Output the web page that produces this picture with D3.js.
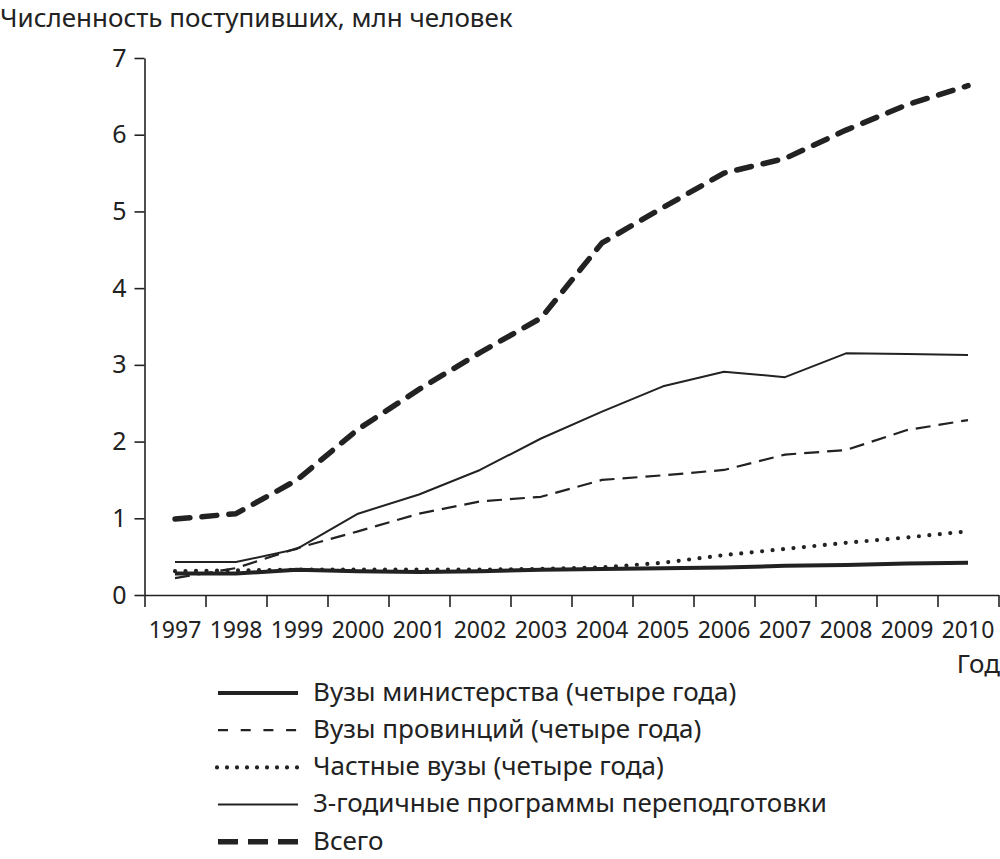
<!DOCTYPE html>
<html>
<head>
<meta charset="utf-8">
<script src="https://cdn.jsdelivr.net/npm/d3@7"></script>
<style>
  body { margin: 0; background: #fff; }
  svg { display: block; }
  text { font-family: "Noto Sans", sans-serif; fill: #222; }
</style>
</head>
<body>
<svg id="chart"></svg>
<script>
// years on the x axis
const years = [1997, 1998, 1999, 2000, 2001, 2002, 2003, 2004, 2005, 2006, 2007, 2008, 2009, 2010]

// enrolment, mln people
const ministry   = [0.28, 0.28, 0.33, 0.31, 0.30, 0.31, 0.33, 0.34, 0.35, 0.36, 0.38, 0.39, 0.41, 0.42]
const provinces  = [0.22, 0.35, 0.61, 0.83, 1.06, 1.22, 1.28, 1.50, 1.56, 1.63, 1.83, 1.89, 2.15, 2.28]
const privateUni = [0.31, 0.32, 0.33, 0.33, 0.33, 0.33, 0.34, 0.36, 0.42, 0.52, 0.60, 0.68, 0.75, 0.83]
const threeYear  = [0.43, 0.43, 0.60, 1.06, 1.31, 1.63, 2.04, 2.39, 2.72, 2.91, 2.84, 3.15, 3.14, 3.13]
const total      = [0.99, 1.06, 1.50, 2.16, 2.68, 3.16, 3.61, 4.59, 5.05, 5.50, 5.69, 6.06, 6.39, 6.64]

const yTicks = [0, 1, 2, 3, 4, 5, 6, 7]

const seriesNames = [
  'Вузы министерства (четыре года)',
  'Вузы провинций (четыре года)',
  'Частные вузы (четыре года)',
  '3-годичные программы переподготовки',
  'Всего'
]

const yTitle = 'Численность поступивших, млн человек'
const xTitle = 'Год'

const W = 1000, H = 859
const ink = '#222'

const svg = d3.select('#chart').attr('width', W).attr('height', H)

const x = d3.scaleBand()
  .domain(years)
  .range([144.5, 998.5])

const y = d3.scaleLinear()
  .domain([0, 7])
  .range([595, 58])

// line look per series (same order as seriesNames)
const styles = [
  { width: 4,   dash: null,     cap: 'butt',  legendDash: null },
  { width: 2.2, dash: '15,8',   cap: 'butt',  legendDash: '10,12.7' },
  { width: 4.2, dash: '0,10.5', cap: 'round', legendDash: '0,10' },
  { width: 2,   dash: null,     cap: 'butt',  legendDash: null },
  { width: 5.5, dash: '15,12',  cap: 'round', legendDash: '20,10' }
]
const seriesData = [ministry, provinces, privateUni, threeYear, total]

// y axis
svg.append('g')
  .attr('transform', 'translate(144.5,0)')
  .call(d3.axisLeft(y).tickValues(yTicks).tickFormat(d3.format('d')).tickSize(10).tickSizeOuter(0).tickPadding(8))
  .call(g => g.selectAll('text').style('font-size', '25px').attr('fill', ink))
  .call(g => g.selectAll('line, path').attr('stroke', ink).attr('stroke-width', 1.6))

// x axis: ticks on the band edges
const edges = d3.scaleLinear().domain([0, years.length]).range(x.range())
svg.append('g')
  .attr('transform', 'translate(0,595)')
  .call(d3.axisBottom(edges).tickValues(d3.range(years.length + 1)).tickFormat('').tickSize(12).tickSizeOuter(0))
  .call(g => g.selectAll('line, path').attr('stroke', ink).attr('stroke-width', 1.6))

// x labels in band centres
svg.append('g')
  .attr('transform', 'translate(0,595)')
  .call(d3.axisBottom(x).tickSize(0).tickPadding(27))
  .call(g => g.select('.domain').remove())
  .call(g => g.selectAll('text').style('font-size', '23px').attr('fill', ink))

// titles
svg.append('text')
  .attr('x', 0).attr('y', 27)
  .style('font-size', '26px')
  .text(yTitle)

svg.append('text')
  .attr('x', 1000).attr('y', 673)
  .attr('text-anchor', 'end')
  .style('font-size', '26px')
  .text(xTitle)

// lines
const line = d3.line()
  .x((d, i) => x(years[i]) + x.bandwidth() / 2)
  .y(d => y(d))

const drawOrder = [3, 1, 2, 0, 4]
drawOrder.forEach(k => {
  const s = styles[k]
  svg.append('path')
    .datum(seriesData[k])
    .attr('d', line)
    .attr('fill', 'none')
    .attr('stroke', ink)
    .attr('stroke-width', s.width)
    .attr('stroke-linecap', s.cap)
    .attr('stroke-linejoin', 'round')
    .attr('stroke-dasharray', s.dash)
})

// legend
const legend = svg.append('g')
seriesNames.forEach((name, i) => {
  const s = styles[i]
  const ly = 693 + i * 37.2
  let x0 = 218, x1 = 298
  if (i === 2) { x0 = 217; x1 = 299 }
  legend.append('line')
    .attr('x1', x0).attr('x2', x1)
    .attr('y1', ly).attr('y2', ly)
    .attr('stroke', ink)
    .attr('stroke-width', i === 4 ? 5.5 : s.width)
    .attr('stroke-linecap', i === 2 ? 'round' : 'butt')
    .attr('stroke-dasharray', s.legendDash)
  legend.append('text')
    .attr('x', 313).attr('y', ly)
    .attr('dy', '0.3em')
    .style('font-size', '26px')
    .text(name)
})
</script>
</body>
</html>
